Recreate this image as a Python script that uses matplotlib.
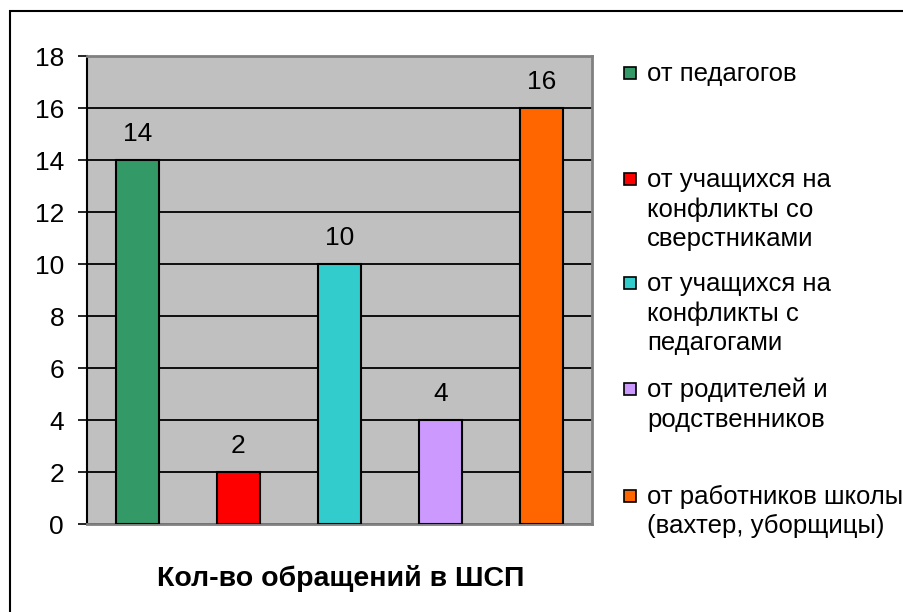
import matplotlib.pyplot as plt
from matplotlib.patches import Rectangle

plt.rcParams['font.family'] = ['Liberation Sans', 'DejaVu Sans']

# data
series = ["от педагогов",
          "от учащихся на\nконфликты со\nсверстниками",
          "от учащихся на\nконфликты с\nпедагогами",
          "от родителей и\nродственников",
          "от работников школы\n(вахтер, уборщицы)"]
values = [14, 2, 10, 4, 16]
colors = ["#339966", "#FF0000", "#33CCCC", "#CC99FF", "#FF6600"]
category = "Кол-во обращений в ШСП"
yticks = [0, 2, 4, 6, 8, 10, 12, 14, 16, 18]

W, H = 904, 612
fig = plt.figure(figsize=(W / 100, H / 100), dpi=100)

# outer chart border (cut at right/bottom like the source)
fig.patches.append(Rectangle((10 / W, -0.1), 2, 1 - 11 / H + 0.1,
                             transform=fig.transFigure, fill=False,
                             edgecolor="black", linewidth=1.5))

# plot area in pixel coords
x0, x1, ytop, ybot = 87, 592, 56, 524
ax = fig.add_axes([x0 / W, 1 - ybot / H, (x1 - x0) / W, (ybot - ytop) / H])
ax.set_facecolor("#C0C0C0")

xs = list(range(len(values)))
ax.bar(xs, values, width=0.42, color=colors, edgecolor="black", linewidth=1.5, zorder=3)
for x, v in zip(xs, values):
    ax.text(x, v + 1.0, str(v), ha="center", va="center", fontsize=19)

ax.set_xlim(-0.5, len(values) - 0.5)
ax.set_ylim(0, 18)
ax.set_yticks(yticks)
ax.tick_params(axis="y", labelsize=19, length=6.5, width=1.2, pad=10)
ax.set_xticks([])
ax.yaxis.grid(True, color="black", linewidth=1.3, zorder=1)
ax.set_axisbelow(True)
for side in ["top", "right", "bottom"]:
    ax.spines[side].set_color("#808080")
    ax.spines[side].set_linewidth(2)
ax.spines["left"].set_linewidth(1.5)

fig.text(341 / W, 1 - 579 / H, category, ha="center", va="center",
         fontsize=20.5, fontweight="bold")

# legend drawn manually, Excel-style spacing
legend_y = [73, 179, 283, 389, 496]
for lab, col, y in zip(series, colors, legend_y):
    fig.patches.append(Rectangle((624 / W, 1 - (y + 6) / H), 12 / W, 12 / H,
                                 transform=fig.transFigure, facecolor=col,
                                 edgecolor="black", linewidth=1.2))
    fig.text(647 / W, 1 - (y - 11) / H, lab, ha="left", va="top",
             fontsize=18.5, linespacing=1.27)

fig.savefig("out.png", dpi=100)
